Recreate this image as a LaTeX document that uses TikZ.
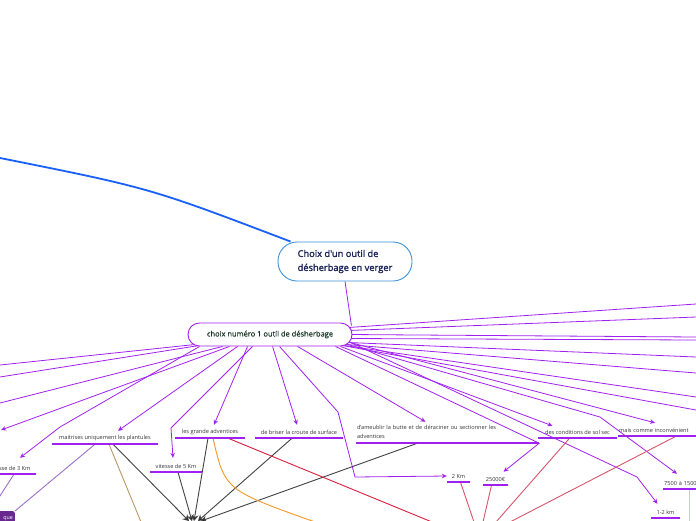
\documentclass[tikz,border=0pt]{standalone}
\usepackage{fontspec}
\setmainfont{Open Sans}
\newfontfamily\rootfont[FakeBold=1.4]{Open Sans}
\newfontfamily\mainfont[FakeBold=0.3]{Open Sans}
\usetikzlibrary{arrows.meta, positioning, calc, backgrounds}
\definecolor{mapblue}{RGB}{25, 95, 250}
\definecolor{rootline}{RGB}{60, 145, 215}
\definecolor{rootink}{RGB}{25, 35, 85}
\definecolor{mainink}{RGB}{25, 55, 40}
\definecolor{fanpurple}{RGB}{160, 32, 240}
\definecolor{linkgrey}{RGB}{65, 65, 65}
\definecolor{linkred}{RGB}{215, 30, 60}
\definecolor{linkrose}{RGB}{215, 85, 105}
\definecolor{linkorange}{RGB}{245, 150, 40}
\definecolor{linkpeach}{RGB}{250, 195, 140}
\definecolor{linktan}{RGB}{185, 150, 100}
\definecolor{linklilac}{RGB}{155, 110, 200}
\definecolor{tagpurple}{RGB}{105, 40, 145}

\tikzset{
  rootbox/.style={draw=rootline, line width=0.9pt, rounded corners=19pt,
    fill=white, minimum width=134pt, minimum height=39pt, align=left,
    text=rootink, font=\rootfont\fontsize{9.3}{14}\selectfont},
  mainbox/.style={draw=fanpurple, line width=0.9pt, rounded corners=11.5pt,
    fill=white, minimum width=164pt, minimum height=23pt, text=mainink,
    font=\mainfont\fontsize{7.5}{9}\selectfont},
  topic/.style={inner sep=1pt, minimum height=12pt, text=black!80,
    font=\fontsize{5.6}{8.5}\selectfont},
  uline/.style={fanpurple, line width=1.6pt},
  fan/.style={fanpurple, line width=0.8pt},
  fanarrow/.style={fan, ->},
  link/.style={line width=0.9pt},
  hubarrow/.style={linkgrey, link, -{Stealth[length=6pt,width=7pt,fill=black]}},
}

\begin{document}
\begin{tikzpicture}[x=1pt, y=-1pt, >={Stealth[length=5pt,width=4.5pt]}]
    \useasboundingbox (0,0) rectangle (696,520);

    % Central topics
    \node[rootbox] (root) at (345,261.5) {Choix d'un outil de\\désherbage en verger};
    \node[mainbox] (main) at (270,334.5) {choix numéro 1 outil de désherbage};

    % Subtopics, left to right
    \node[topic, minimum width=52pt] (vit3) at (10,468) {vitesse de 3 Km};
    \node[topic, minimum width=106pt] (maitr) at (105,438) {maitrises uniquement les plantules};
    \node[topic, minimum width=70pt] (grande) at (210,432) {les grande adventices};
    \node[topic, minimum width=52pt] (vit5) at (176,466) {vitesse de 5 Km};
    \node[topic, minimum width=88pt] (briser) at (299,432) {de briser la croute de surface};
    \node[topic, text width=181pt, align=left, minimum height=22pt] (ameub) at (447.5,432)
        {d'ameublir la butte et de déraciner ou sectionner les\\adventices};
    \node[topic, minimum width=79pt] (cond) at (577.5,432) {des conditions de sol sec};
    \node[topic, anchor=west, text width=88pt, align=left] (mais) at (618,430) {mais comme inconvénient};
    \node[topic, minimum width=23pt] (km2) at (458.5,476) {2 Km};
    \node[topic, minimum width=25pt] (eur) at (495.5,479) {25000€};
    \node[topic, anchor=west, text width=40pt, align=left] (v7500) at (663,483) {7500 à 1500};
    \node[topic, minimum width=29pt] (km12) at (665.5,512) {1-2 km};

    % Tag at the lower left
    \node[fill=tagpurple, rounded corners=2pt, text=white, anchor=north east,
          text width=30pt, align=right, inner sep=2pt, minimum height=14pt,
          font=\fontsize{5.3}{6}\selectfont] (tag) at (15,511) {que};

    % Underlines
    \foreach \n in {vit3, maitr, grande, vit5, briser, ameub, cond, mais, km2, eur, v7500, km12}
        \draw[uline] (\n.south west) -- (\n.south east);

    % Free ends
    \coordinate (farNW) at (0,158);
    \coordinate (hub) at (195,521);
    \coordinate (offL1) at (0,365);
    \coordinate (offL2) at (0,377);
    \coordinate (offL3) at (0,403);
    \coordinate (offL4) at (1,430);
    \coordinate (offR1) at (696,304);
    \coordinate (offR2) at (696,317);
    \coordinate (offR3) at (696,337);
    \coordinate (offR4) at (696,340);
    \coordinate (offR5) at (696,357);
    \coordinate (offR6) at (696,373);
    \coordinate (offR7) at (696,397);
    \coordinate (offR8) at (696,410);

    \begin{scope}[on background layer]
    % Root links
    \draw[mapblue, line width=1.8pt] (farNW) .. controls (150,188) .. ($(root.north west)+(13,0)$);
    \draw[fan] (root.south) -- ($(main.north east)+(-1,3)$);

    % Fan to the left
    \draw[fan] ($(main.south west)+(8,-2)$) -- (offL1);
    \draw[fan] ($(main.south west)+(12,-1)$) -- (offL2);
    \draw[fan] ($(main.south west)+(35,0)$) -- (offL3);
    \draw[fanarrow] ($(main.south west)+(42,0)$) -- (offL4);
    \draw[fanarrow] ($(main.south west)+(12,0)$) -- (60,427) -- ($(vit3.north)+(10,-4)$);
    \draw[fanarrow] ($(main.south west)+(50,0)$) -- ($(maitr.north)+(13,-1)$);
    \draw[fanarrow] ($(main.south west)+(60,0)$) -- ($(grande.north)+(4,-1)$);
    \draw[fanarrow] ($(main.south west)+(65,0)$) -- (171,428) -- ($(vit5.north)+(-3,-2)$);
    \draw[fanarrow] ($(main.south west)+(85,0)$) -- ($(briser.north)+(-2,-1)$);
    \draw[fanarrow] ($(main.south west)+(92,0)$) -- (338,412) -- (355,477) -- (km2.west);
    \draw[fanarrow] ($(main.south west)+(110,0)$) -- ($(ameub.north)+(-22,1)$);

    % Fan to the right
    \draw[fan] ($(main.east)+(-4,-7)$) -- (offR1);
    \draw[fan] ($(main.east)+(-4,-4)$) -- (offR2);
    \draw[fan] ($(main.east)+(-4,0)$) -- (offR3);
    \draw[fan] ($(main.east)+(-4,4)$) -- (offR4);
    \draw[fan] ($(main.east)+(-4,8)$) -- (offR5);
    \draw[fan] ($(main.east)+(-6,10)$) -- (offR6);
    \draw[fan] ($(main.east)+(-8,11)$) -- (offR7);
    \draw[fan] ($(main.east)+(-10,11)$) -- (offR8);
    \draw[fanarrow] ($(main.east)+(-6,7)$) -- ($(mais.north west)+(37,-1)$);
    \draw[fanarrow] ($(main.east)+(-8,9)$) -- (600,417) -- ($(v7500.north west)+(14,-3)$);
    \draw[fanarrow] ($(main.east)+(-6,6)$) -- (637,477) -- ($(km12.north)+(-8,-2)$);
    \draw[fanarrow] ($(main.south east)+(-12,0)$) -- ($(cond.north)+(-25,0)$);
    \draw[fanarrow] ($(main.south east)+(-17,0)$) -- (ameub.south east) -- ($(eur.north)+(8,-1)$);

    % Links to the hub below
    \draw[hubarrow] ($(maitr.south)+(8,0)$) -- ($(hub)+(-6,0)$);
    \draw[hubarrow] ($(vit5.south)+(2,0)$) -- ($(hub)+(-3,0)$);
    \draw[hubarrow] ($(grande.south)+(-2,0)$) -- ($(hub)+(-1,0)$);
    \draw[hubarrow] ($(briser.south)+(-7,0)$) -- ($(hub)+(3,0)$);
    \draw[hubarrow] ($(ameub.south)+(-30,0)$) -- ($(hub)+(6,0)$);

    % Other links
    \draw[linktan, link] ($(maitr.south)+(4,0)$) -- (141,522);
    \draw[linklilac, link] ($(maitr.south)+(-10,0)$) -- (tag.north east);
    \draw[linklilac, link] ($(vit3.south)+(4,0)$) -- (-4,502);
    \draw[linkorange, link] ($(grande.south)+(3,0)$) .. controls (225,490) .. (315,522);
    \draw[linkred, link] ($(grande.south)+(18,0)$) -- (432,522);
    \draw[linkrose, link] ($(km2.south)+(2,0)$) -- (474,522);
    \draw[linkrose, link] ($(eur.south)+(-4,0)$) -- (483,522);
    \draw[linkrose, link] ($(cond.south)+(-8,0)$) -- (496,522);
    \draw[linkrose, link] ($(mais.south west)+(58,0)$) -- (510,522);
    \draw[linkpeach, link] ($(v7500.south west)+(26,0)$) -- (689,522);
    \end{scope}
\end{tikzpicture}
\end{document}
